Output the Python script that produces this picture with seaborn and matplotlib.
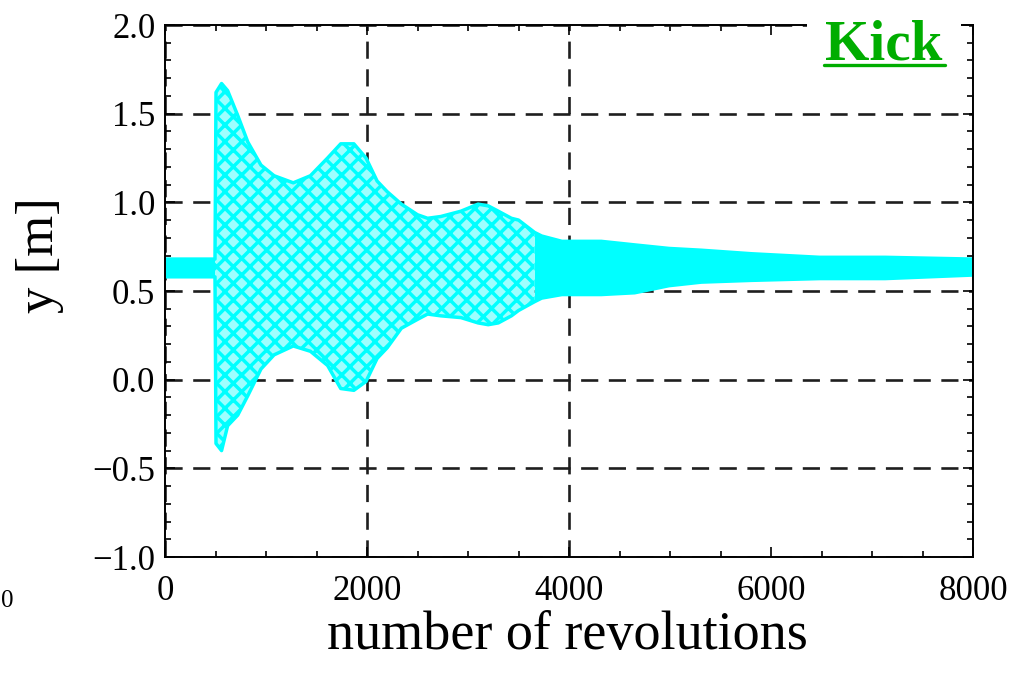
import numpy as np
import pandas as pd
import matplotlib
matplotlib.use("Agg")
import matplotlib.pyplot as plt
from matplotlib.lines import Line2D
from matplotlib.ticker import MultipleLocator, FixedLocator
import seaborn as sns

# Beam position envelope (upper / lower extent of the tracked points) vs turn number
turns = [0, 495, 505, 560, 620, 720, 820, 950, 1080, 1270, 1440, 1610, 1740,
         1870, 1990, 2100, 2200, 2340, 2500, 2600, 2730, 2930, 3100, 3200,
         3300, 3430, 3500, 3660, 3730, 3930, 4320, 4650, 4990, 5310, 5810,
         6480, 7130, 8000]
y_upper = [0.68, 0.68, 1.62, 1.67, 1.63, 1.49, 1.34, 1.21, 1.15, 1.11, 1.15,
           1.25, 1.33, 1.33, 1.25, 1.12, 1.06, 0.99, 0.93, 0.91, 0.92, 0.95,
           0.99, 0.98, 0.95, 0.91, 0.90, 0.83, 0.81, 0.78, 0.78, 0.76, 0.74,
           0.73, 0.71, 0.69, 0.69, 0.68]
y_lower = [0.58, 0.58, -0.36, -0.40, -0.26, -0.20, -0.09, 0.06, 0.14, 0.19,
           0.16, 0.08, -0.05, -0.06, -0.01, 0.12, 0.18, 0.29, 0.34, 0.37,
           0.36, 0.35, 0.32, 0.31, 0.32, 0.36, 0.39, 0.44, 0.46, 0.48, 0.48,
           0.49, 0.53, 0.55, 0.56, 0.57, 0.57, 0.59]

x_ticks = [0, 2000, 4000, 6000, 8000]
y_ticks = [-1.0, -0.5, 0.0, 0.5, 1.0, 1.5, 2.0]

sns.set_theme(style="ticks")
plt.rcParams["font.family"] = ["Liberation Serif", "DejaVu Serif"]
plt.rcParams["hatch.linewidth"] = 2.5
plt.rcParams["hatch.color"] = "#00ffff"

fig = plt.figure(figsize=(10.21, 6.81), dpi=100)
fig.patch.set_facecolor("white")
ax = fig.add_axes([165 / 1021, 1 - 557 / 681, 808 / 1021, 532 / 681])
ax.set_facecolor("white")

df = pd.DataFrame({"turn": turns, "upper": y_upper, "lower": y_lower})
cyan = "#00ffff"

# quiet beam before the kick and the damped tail: densely filled band
calm = (df.turn <= 495) | (df.turn >= 3660)
ax.fill_between(df.turn, df.lower, df.upper, where=calm, color=cyan,
                linewidth=0, zorder=2)
# large coherent oscillation after the kick: sparser, speckled band
busy = (df.turn >= 495) & (df.turn <= 3660)
ax.fill_between(df.turn, df.lower, df.upper, where=busy,
                facecolor=(0.62, 1.0, 1.0, 1.0), edgecolor=cyan, hatch="xx",
                linewidth=0, zorder=2)

sns.lineplot(data=df, x="turn", y="upper", color=cyan, lw=2.5, ax=ax,
             zorder=3)
sns.lineplot(data=df, x="turn", y="lower", color=cyan, lw=2.5, ax=ax,
             zorder=3)

ax.set_xlim(0, 8000)
ax.set_ylim(-1.0, 2.0)
ax.xaxis.set_major_locator(FixedLocator(x_ticks))
ax.yaxis.set_major_locator(FixedLocator(y_ticks))
ax.xaxis.set_minor_locator(MultipleLocator(500))
ax.yaxis.set_minor_locator(MultipleLocator(0.1))
ax.set_xticklabels([str(v) for v in x_ticks])
ax.set_yticklabels([f"{v:.1f}".replace("-", "\u2212") for v in y_ticks])

ax.grid(True, which="major", color="#1e1e1e", linestyle=(0, (6.5, 4)),
        linewidth=1.9, zorder=1)
ax.set_axisbelow(True)
# the 6000 gridline is not drawn
ax.xaxis.get_gridlines()[3].set_visible(False)

for s in ax.spines.values():
    s.set_color("black")
    s.set_linewidth(1.4)
    s.set_zorder(5)

ax.tick_params(which="both", direction="in", top=True, right=True,
               color="black", width=1.2)
ax.tick_params(which="major", length=7, labelsize=25, labelcolor="black")
ax.tick_params(axis="x", which="major", pad=13)
ax.tick_params(axis="y", which="major", pad=7)
ax.tick_params(which="minor", length=4.5)

ax.set_xlabel("number of revolutions", fontsize=39, color="black")
ax.set_ylabel("y [m]", fontsize=38, color="black")
ax.xaxis.set_label_coords(0.4975, -0.1)
ax.yaxis.set_label_coords(-0.125, 0.568)

# panel tag
tag_color = "#00ad00"
fig.text(825 / 1021, 1 - 60 / 681, "Kick", ha="left", va="baseline",
         fontsize=41, fontweight="bold", color=tag_color, zorder=10,
         bbox=dict(facecolor="white", edgecolor="none", pad=13))
fig.add_artist(Line2D([824 / 1021, 945 / 1021], [1 - 65 / 681, 1 - 65 / 681],
                      color=tag_color, lw=2.4, zorder=11))

# tick label of the neighbouring panel at the left margin
fig.text(1 / 1021, 1 - 601 / 681, "0", ha="left", va="center", fontsize=18,
         color="black")

fig.savefig("out.png", dpi=100, facecolor="white")
